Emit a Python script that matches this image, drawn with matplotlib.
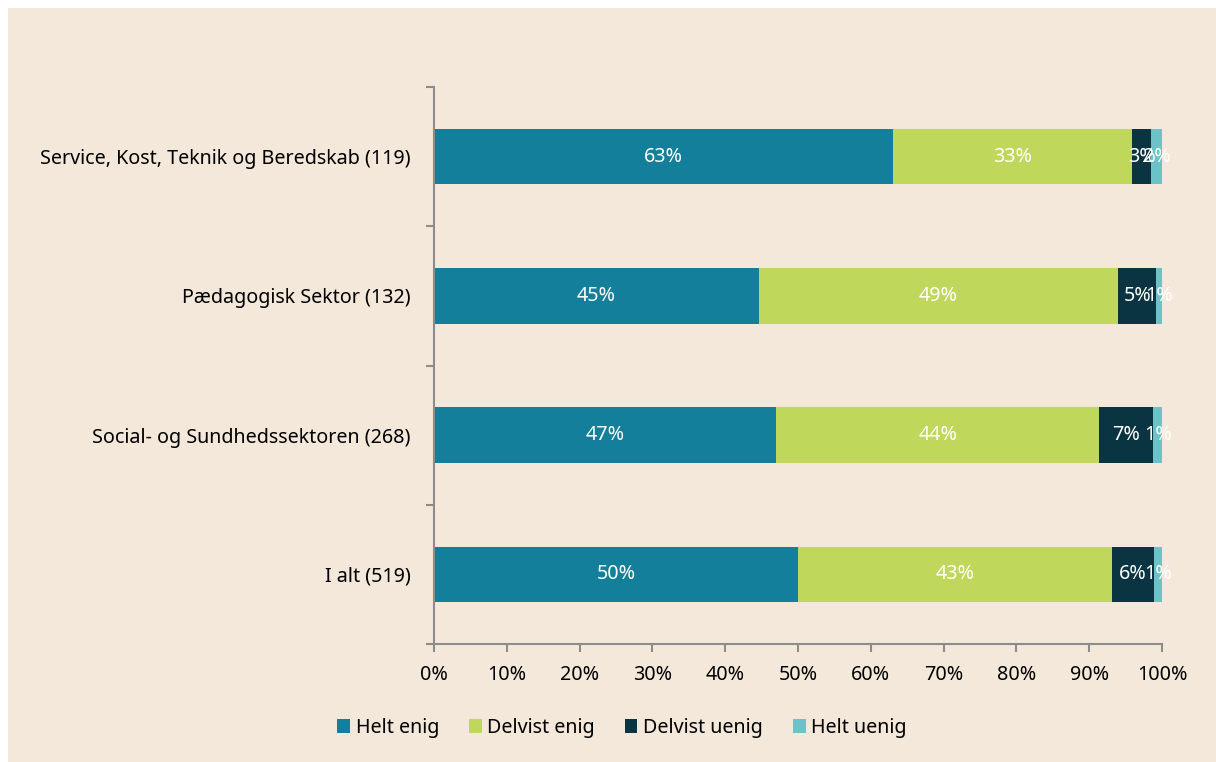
import numpy as np
import matplotlib.pyplot as plt
from matplotlib.patches import Patch

plt.rcParams['font.family'] = ['Noto Sans', 'DejaVu Sans']

# Groups, bottom to top as drawn on the y axis
groups = ["I alt (519)",
          "Social- og Sundhedssektoren (268)",
          "Pædagogisk Sektor (132)",
          "Service, Kost, Teknik og Beredskab (119)"]

# Share of answers per group (percent)
helt_enig = [50.0, 47.0, 44.6, 63.0]
delvist_enig = [43.1, 44.4, 49.4, 32.9]
delvist_uenig = [5.8, 7.4, 5.2, 2.6]
helt_uenig = [1.1, 1.2, 0.8, 1.5]

series_names = ["Helt enig", "Delvist enig", "Delvist uenig", "Helt uenig"]
series = [helt_enig, delvist_enig, delvist_uenig, helt_uenig]
colors = ["#137f9b", "#bfd75a", "#0a3442", "#6cc3c7"]

bg = "#f4e8da"
axis_grey = "#8c8c8c"
fs = 14.2

fig = plt.figure(figsize=(12.16, 7.62), dpi=100)
fig.patch.set_facecolor("white")
# beige panel behind the chart
fig.patches.append(plt.Rectangle((8 / 1216, 0), 1, 1 - 8 / 762,
                                 transform=fig.transFigure, facecolor=bg,
                                 edgecolor="none", zorder=-1))

ax = fig.add_axes([434 / 1216, 1 - 644 / 762, 728 / 1216, 557 / 762])
ax.set_facecolor("none")

y = np.arange(len(groups))
left = np.zeros(len(groups))
for name, vals, col in zip(series_names, series, colors):
    vals = np.array(vals)
    ax.barh(y, vals, left=left, height=0.4, color=col, label=name)
    for yi, l, v in zip(y, left, vals):
        ax.text(l + v / 2, yi, "%.0f%%" % v, ha="center", va="center",
                color="white", fontsize=fs)
    left += vals

ax.set_xlim(0, 100)
ax.set_ylim(-0.5, len(groups) - 0.5)
ax.set_xticks(np.arange(0, 101, 10))
ax.set_xticklabels(["%d%%" % t for t in range(0, 101, 10)])
ax.set_yticks(y)
ax.set_yticklabels(groups)
ax.set_yticks(np.arange(-0.5, len(groups), 1), minor=True)

for s in ["top", "right"]:
    ax.spines[s].set_visible(False)
for s in ["left", "bottom"]:
    ax.spines[s].set_color(axis_grey)
    ax.spines[s].set_linewidth(1.5)

ax.tick_params(axis="y", which="major", length=0, pad=17, labelsize=fs)
ax.tick_params(axis="y", which="minor", length=6, width=1.5, color=axis_grey)
ax.tick_params(axis="x", length=6, width=1.5, color=axis_grey, pad=9,
               labelsize=fs)

handles = [Patch(facecolor=c, label=n) for n, c in zip(series_names, colors)]
fig.legend(handles=handles, loc="center", bbox_to_anchor=(622 / 1216, 1 - 728 / 762),
           ncol=4, frameon=False, fontsize=fs, handlelength=0.65,
           handleheight=0.65, handletextpad=0.3, columnspacing=1.5)

fig.savefig("out.png", dpi=100, facecolor=fig.get_facecolor())
